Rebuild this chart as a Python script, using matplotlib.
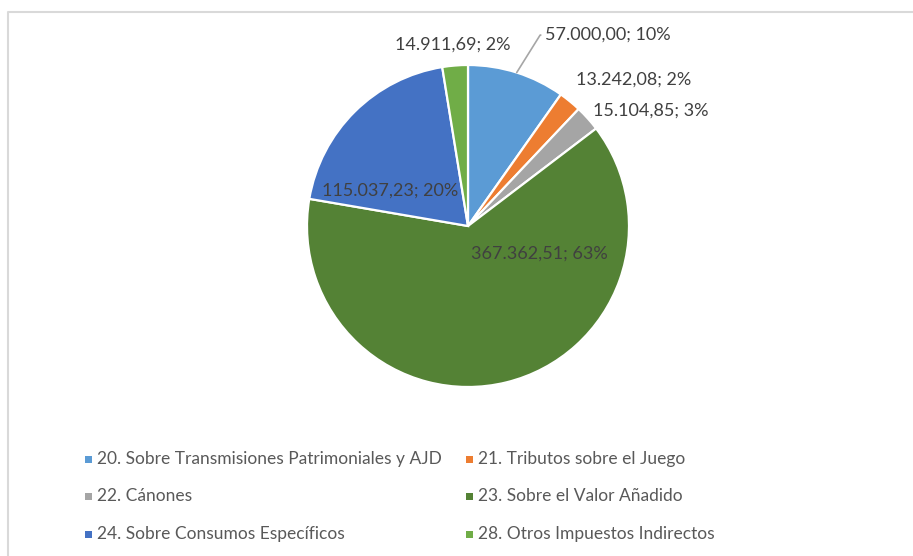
import matplotlib
matplotlib.use("Agg")
import matplotlib.pyplot as plt
from matplotlib.lines import Line2D
from matplotlib.patches import Rectangle
import numpy as np

categories = ["20. Sobre Transmisiones Patrimoniales y AJD",
              "21. Tributos sobre el Juego",
              "22. Cánones",
              "23. Sobre el Valor Añadido",
              "24. Sobre Consumos Específicos",
              "28. Otros Impuestos Indirectos"]
values = [57000.00, 13242.08, 15104.85, 367362.51, 115037.23, 14911.69]
percents = [10, 2, 3, 63, 20, 2]  # as printed on the chart
colors = ["#5B9BD5", "#ED7D31", "#A5A5A5", "#548235", "#4472C4", "#70AD47"]

W, H = 913, 556
DPI = 100
fig = plt.figure(figsize=(W / DPI, H / DPI), dpi=DPI)
plt.rcParams['font.family'] = ['Lato', 'DejaVu Sans']

cx, cy, R = 468, 226, 161  # pixel layout
ax = fig.add_axes([0, 0, 1, 1])
wedges, _ = ax.pie(values, colors=colors, startangle=90, counterclock=False,
                   wedgeprops=dict(edgecolor="white", linewidth=1.6))
ax.set_aspect('auto')
ax.set_xlim(-cx / R, (W - cx) / R)
ax.set_ylim(-(H - cy) / R, cy / R)
ax.axis('off')

def fmt(v, p):
    s = f"{v:,.2f}"
    s = s.replace(",", "X").replace(".", ",").replace("X", ".")
    return f"{s}; {p}%"

# label placement (in radius units) and alignment
label_pos = [(0.478, 1.186, 'left'), (1.031, 0.907, 'center'), (1.137, 0.714, 'center'),
             (0.441, -0.174, 'center'), (-0.484, 0.217, 'center'), (-0.093, 1.124, 'center')]
txtcol = "#404040"
fs = 13
for i, (w, v, p) in enumerate(zip(wedges, values, percents)):
    x, y, ha = label_pos[i]
    if i == 0:
        ang = np.deg2rad((w.theta1 + w.theta2) / 2)
        ex, ey = np.cos(ang), np.sin(ang)
        ax.annotate(fmt(v, p), xy=(ex, ey), xytext=(x, y), ha='left', va='center',
                    fontsize=fs, color=txtcol,
                    arrowprops=dict(arrowstyle='-', color="#A6A6A6", lw=1.2,
                                    shrinkA=1, shrinkB=0,
                                    connectionstyle="angle,angleA=180,angleB=58,rad=0"))
    else:
        ax.text(x, y, fmt(v, p), ha=ha, va='center', fontsize=fs, color=txtcol)

# legend (manual, two columns)
legcol = "#595959"
col_x = [88, 469]
row_y = [459, 496, 534]
for i, (lab, c) in enumerate(zip(categories, colors)):
    px = col_x[i % 2]
    py = row_y[i // 2]
    sq = 7
    fig.add_artist(Rectangle(((px - sq / 2) / W, 1 - (py + sq / 2) / H), sq / W, sq / H,
                             transform=fig.transFigure, facecolor=c, edgecolor='none'))
    fig.text((px + 9) / W, 1 - py / H, lab, ha='left', va='center',
             fontsize=12.5, color=legcol)

# chart border
fig.add_artist(Line2D([8 / W, 8 / W, 1.0], [0.0, 1 - 12 / H, 1 - 12 / H],
                      transform=fig.transFigure, color="#D9D9D9", lw=1.5))

fig.savefig("out.png", dpi=DPI)
